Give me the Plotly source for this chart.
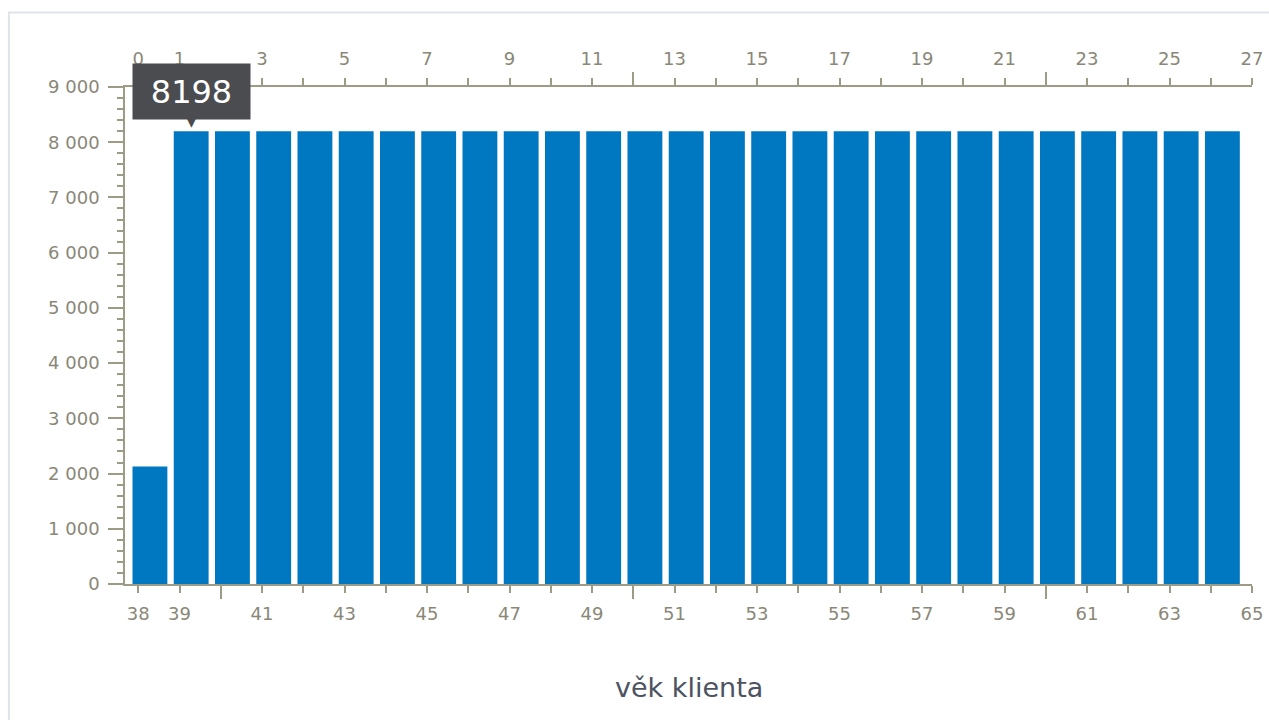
import plotly.graph_objects as go

# ---- data ----
ages = list(range(38, 65))                     # věk klienta (bar categories)
counts = [2130] + [8198] * 26                  # bar values
bottom_ticks = list(range(38, 66))
bottom_labels = [str(v) if (v in (38, 39) or v % 2 == 1) else "" for v in bottom_ticks]
top_ticks = list(range(0, 28))
top_labels = [str(v) if (v in (0, 1) or v % 2 == 1) else "" for v in top_ticks]
bottom_long_ticks = [40, 50, 60]
top_long_ticks = [2, 12, 22]
y_ticks = list(range(0, 9001, 1000))
tooltip_index = 1

# ---- style ----
BAR = "#0078c1"
AXIS = "#9d9b86"
LABEL = "#8a8778"
FONT = "DejaVu Sans"
bar_width = 0.845
bar_offset = -0.14
x_range = [37.678, 65]
shift = 38  # top axis is index (age - 38)

fig = go.Figure()
fig.add_trace(go.Bar(
    x=ages, y=counts, width=bar_width, offset=bar_offset,
    marker=dict(color=BAR, line=dict(width=0)),
    hoverinfo="skip", showlegend=False,
))

tickstyle = dict(showgrid=False, zeroline=False, tickcolor=AXIS, tickwidth=1.5, automargin=False,
                 tickfont=dict(family=FONT, size=18, color=LABEL))
common = dict(linecolor=AXIS, linewidth=1.5, **tickstyle)

fig.update_layout(
    width=1269, height=720,
    margin=dict(l=125, r=17, t=87, b=136),
    paper_bgcolor="white", plot_bgcolor="white",
    separators=", ",
    font=dict(family=FONT),
    xaxis=dict(range=x_range, tickmode="array", tickvals=bottom_ticks, ticktext=bottom_labels,
               ticks="outside", ticklen=7, showline=True, ticklabelstandoff=6,
               ticklabeloverflow="allow", **common),
    xaxis2=dict(range=[x_range[0] - shift, x_range[1] - shift], overlaying="x", side="top", anchor="y",
                tickmode="array", tickvals=top_ticks, ticktext=top_labels,
                ticks="outside", ticklen=7, showline=True, ticklabelstandoff=6,
                ticklabeloverflow="allow", **common),
    xaxis3=dict(range=x_range, overlaying="x", side="bottom", anchor="y",
                tickmode="array", tickvals=bottom_long_ticks, ticks="outside", ticklen=14,
                showticklabels=False, showline=False, **tickstyle),
    xaxis4=dict(range=[x_range[0] - shift, x_range[1] - shift], overlaying="x", side="top", anchor="y",
                tickmode="array", tickvals=top_long_ticks, ticks="outside", ticklen=14,
                showticklabels=False, showline=False, **tickstyle),
    yaxis=dict(range=[0, 9000], tickmode="array", tickvals=y_ticks, tickformat=",d",
               ticks="outside", ticklen=15, showline=True, ticklabelstandoff=5,
               minor=dict(dtick=200, ticks="outside", ticklen=6, tickcolor=AXIS, tickwidth=1.5),
               **common),
)

# invisible traces so the overlay axes render
for xa in ("x2", "x3", "x4"):
    fig.add_trace(go.Scatter(x=[None], y=[None], xaxis=xa, yaxis="y", showlegend=False, hoverinfo="skip"))

# tooltip
tx = ages[tooltip_index] + bar_offset + bar_width / 2
fig.add_annotation(x=tx, y=counts[tooltip_index], xref="x", yref="y", yanchor="bottom",
                   yshift=11, text=str(counts[tooltip_index]), showarrow=False,
                   font=dict(family=FONT, size=32, color="white"),
                   bgcolor="#4b4c50", width=117, height=55, borderpad=0)
fig.add_annotation(x=tx, y=counts[tooltip_index], xref="x", yref="y", yanchor="bottom",
                   yshift=0, text="▼", showarrow=False,
                   font=dict(family=FONT, size=14, color="#4b4c50"))

# axis title
fig.add_annotation(x=0.5, y=-0.209, xref="paper", yref="paper", yanchor="middle",
                   text="věk klienta", showarrow=False,
                   font=dict(family=FONT, size=27, color="#4d5361"))

# panel frame
fig.add_shape(type="rect", xref="paper", yref="paper", x0=-0.103, x1=1.05, y0=-0.3, y1=1.15,
              line=dict(color="#dfe4e8", width=2), fillcolor="rgba(0,0,0,0)", layer="below")

fig.write_html("out.html", config={"displayModeBar": False},
               post_script="document.body.style.margin='0';document.body.style.overflow='hidden';")
